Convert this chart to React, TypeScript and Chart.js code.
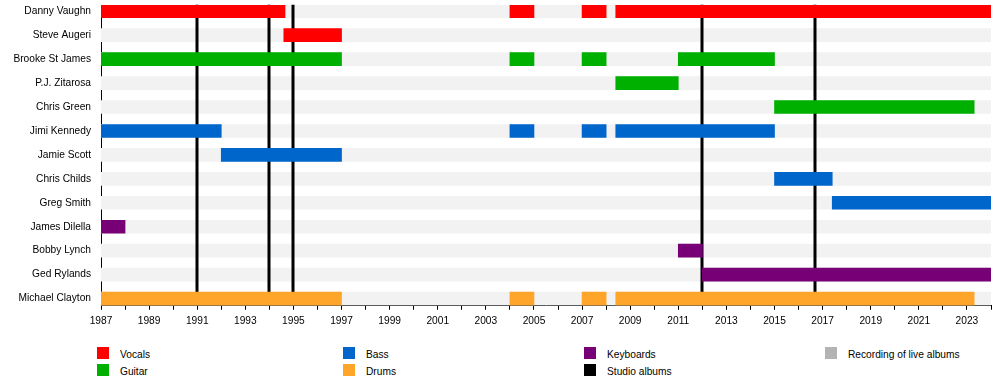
import React, { useEffect, useRef } from 'react';
import { Chart, registerables } from 'chart.js';

Chart.register(...registerables);

const members = [
  'Danny Vaughn',
  'Steve Augeri',
  'Brooke St James',
  'P.J. Zitarosa',
  'Chris Green',
  'Jimi Kennedy',
  'Jamie Scott',
  'Chris Childs',
  'Greg Smith',
  'James Dilella',
  'Bobby Lynch',
  'Ged Rylands',
  'Michael Clayton',
];

const startYear = 1987;
const endYear = 2024;

// [member, from, to]
const vocals: [string, number, number][] = [
  ['Danny Vaughn', 1987, 1994.65],
  ['Danny Vaughn', 2004, 2005],
  ['Danny Vaughn', 2007, 2008],
  ['Danny Vaughn', 2008.4, 2024],
  ['Steve Augeri', 1994.6, 1997],
];

const guitar: [string, number, number][] = [
  ['Brooke St James', 1987, 1997],
  ['Brooke St James', 2004, 2005],
  ['Brooke St James', 2007, 2008],
  ['Brooke St James', 2011, 2015],
  ['P.J. Zitarosa', 2008.4, 2011],
  ['Chris Green', 2015, 2023.3],
];

const bass: [string, number, number][] = [
  ['Jimi Kennedy', 1987, 1992],
  ['Jimi Kennedy', 2004, 2005],
  ['Jimi Kennedy', 2007, 2008],
  ['Jimi Kennedy', 2008.4, 2015],
  ['Jamie Scott', 1992, 1997],
  ['Chris Childs', 2015, 2017.4],
  ['Greg Smith', 2017.4, 2024],
];

const keyboards: [string, number, number][] = [
  ['James Dilella', 1987, 1988],
  ['Bobby Lynch', 2011, 2012],
  ['Ged Rylands', 2012, 2024],
];

const drums: [string, number, number][] = [
  ['Michael Clayton', 1987, 1997],
  ['Michael Clayton', 2004, 2005],
  ['Michael Clayton', 2007, 2008],
  ['Michael Clayton', 2008.4, 2023.3],
];

const studioAlbums = [1991, 1994, 1995, 2012, 2016.7];

const roleLabels = ['Vocals', 'Guitar', 'Bass', 'Drums', 'Keyboards'];
const roleColors = ['#ff0000', '#00b000', '#0066cc', '#ffa52a', '#770077'];
const roleSpans = [vocals, guitar, bass, drums, keyboards];

const legendLabels = ['Vocals', 'Guitar', 'Bass', 'Drums', 'Keyboards', 'Studio albums', 'Recording of live albums'];
const legendColors = ['#ff0000', '#00b000', '#0066cc', '#ffa52a', '#770077', '#000000', '#b3b3b3'];

const FONT = '"Liberation Sans", Arial, Helvetica, sans-serif';
const FONT_SIZE = 10.2;

const albumLinesPlugin = {
  id: 'albumLines',
  afterDatasetDraw(chart: any, args: any) {
    if (args.index !== 0) return;
    const { ctx, scales } = chart;
    const x = scales.x;
    const y = scales.y;
    const top = y.getPixelForValue(0) - 6.5;
    const bottom = y.getPixelForValue(members.length - 1) + 6.5;
    ctx.save();
    ctx.strokeStyle = '#000';
    ctx.lineWidth = 3;
    studioAlbums.forEach((yr) => {
      const px = Math.round(x.getPixelForValue(yr));
      ctx.beginPath();
      ctx.moveTo(px, top);
      ctx.lineTo(px, bottom);
      ctx.stroke();
    });
    ctx.restore();
  },
};

export default function App() {
  const canvasRef = useRef<HTMLCanvasElement | null>(null);

  useEffect(() => {
    if (!canvasRef.current) return;
    const datasets: any[] = [
      {
        label: 'background',
        data: members.map((_, i) => ({ x: [startYear, endYear], y: i })),
        backgroundColor: '#f2f2f2',
        order: 1,
      },
      ...roleLabels.map((label, r) => ({
        label,
        data: roleSpans[r].map(([m, a, b]) => ({ x: [a, b], y: members.indexOf(m) })),
        backgroundColor: roleColors[r],
        order: 0,
      })),
    ];

    const chart = new Chart(canvasRef.current, {
      type: 'bar',
      data: { datasets },
      plugins: [albumLinesPlugin],
      options: {
        indexAxis: 'y',
        animation: false,
        responsive: false,
        layout: { padding: { top: 5, right: 9, bottom: 8, left: 0 } },
        plugins: { legend: { display: false }, tooltip: { enabled: false } },
        datasets: {
          bar: { grouped: false, barThickness: 13, borderWidth: 0, borderSkipped: false },
        },
        scales: {
          x: {
            type: 'linear',
            min: startYear,
            max: endYear,
            offset: false,
            ticks: {
              stepSize: 1,
              autoSkip: false,
              maxRotation: 0,
              padding: 5,
              color: '#000',
              font: { family: FONT, size: FONT_SIZE },
              callback: (v: any) => (Math.round(v) % 2 === 1 ? String(v) : ''),
            },
            grid: {
              display: true,
              drawOnChartArea: false,
              drawTicks: true,
              tickLength: 4,
              color: '#000',
              lineWidth: 1,
            },
            border: { display: true, color: '#000', width: 1 },
            afterFit: (s: any) => {
              s.paddingLeft = 0;
              s.paddingRight = 0;
            },
          },
          y: {
            type: 'linear',
            reverse: true,
            offset: false,
            min: -0.26,
            max: 12.3,
            afterBuildTicks: (s: any) => {
              s.ticks = members.map((_, i) => ({ value: i }));
            },
            ticks: {
              autoSkip: false,
              padding: 10,
              color: '#000',
              font: { family: FONT, size: FONT_SIZE },
              callback: (v: any) => members[v] ?? '',
            },
            grid: { display: false, drawTicks: false, offset: false },
            border: { display: true, color: '#000', width: 1 },
            afterFit: (s: any) => {
              s.width = 101;
              s.paddingTop = 0;
              s.paddingBottom = 0;
            },
          },
        },
      } as any,
    });
    return () => chart.destroy();
  }, []);

  const colX = [97, 343, 584, 825];
  const rowY = [347, 364];

  return (
    <div style={{ position: 'absolute', left: 0, top: 0, width: 1000, height: 385, background: '#fff', fontFamily: FONT }}>
      <canvas ref={canvasRef} width={1000} height={340} style={{ display: 'block', width: 1000, height: 340 }} />
      {legendLabels.map((label, i) => {
        const col = Math.floor(i / 2);
        const row = i % 2;
        return (
          <div key={label} style={{ position: 'absolute', left: colX[col], top: rowY[row], height: 12, display: 'flex', alignItems: 'center' }}>
            <div style={{ width: 12, height: 12, background: legendColors[i] }} />
            <span style={{ marginLeft: 11, fontSize: FONT_SIZE, color: '#000', lineHeight: '12px', whiteSpace: 'nowrap', position: 'relative', top: 2 }}>{label}</span>
          </div>
        );
      })}
    </div>
  );
}
